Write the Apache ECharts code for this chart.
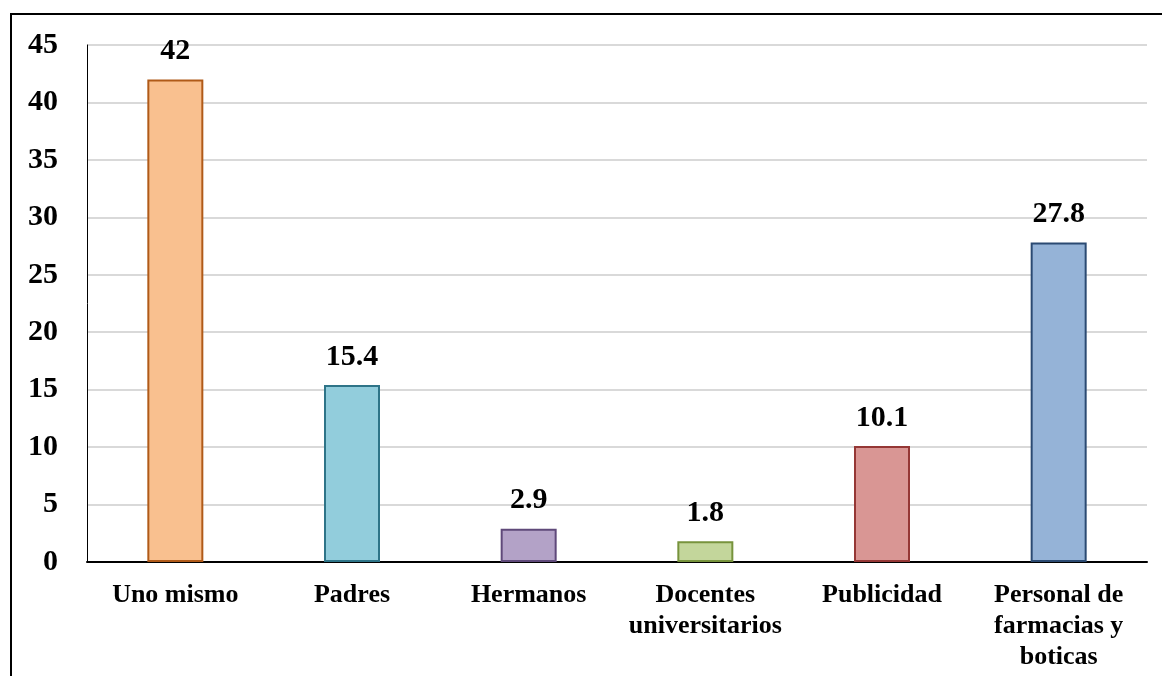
<!DOCTYPE html>
<html>
<head>
<meta charset="utf-8">
<script src="https://cdn.jsdelivr.net/npm/echarts@6/dist/echarts.min.js"></script>
<style>
  html, body { margin: 0; padding: 0; background: #fff; }
  #chart { width: 1162px; height: 676px; }
</style>
</head>
<body>
<div id="chart"></div>
<script>
// Source of the recommendation (%)
const categories = ['Uno mismo', 'Padres', 'Hermanos', 'Docentes\nuniversitarios', 'Publicidad', 'Personal de\nfarmacias y\nboticas'];
const values = [42, 15.4, 2.9, 1.8, 10.1, 27.8];
const fillColors = ['#F9C08F', '#92CDDC', '#B3A2C7', '#C3D69B', '#D99694', '#95B3D7'];
const edgeColors = ['#B05A18', '#2E7488', '#5F497A', '#77933C', '#953735', '#2B4A72'];
const yTicks = { min: 0, max: 45, interval: 5 };

const font = '"Liberation Serif", "Times New Roman", serif';
const chart = echarts.init(document.getElementById('chart'), null, { renderer: 'canvas' });

chart.setOption({
  animation: false,
  backgroundColor: '#ffffff',
  grid: { left: 87, right: 15, top: 45, bottom: 114, containLabel: false },
  xAxis: {
    type: 'category',
    data: categories,
    axisLine: { show: true, lineStyle: { color: '#000', width: 2 } },
    axisTick: { show: false },
    axisLabel: {
      interval: 0,
      margin: 18,
      color: '#000',
      fontFamily: font,
      fontWeight: 'bold',
      fontSize: 26,
      lineHeight: 31
    }
  },
  yAxis: {
    type: 'value',
    min: yTicks.min,
    max: yTicks.max,
    interval: yTicks.interval,
    axisLine: { show: true, lineStyle: { color: '#000', width: 1 } },
    axisTick: { show: false },
    splitLine: { show: true, lineStyle: { color: '#D9D9D9', width: 2 } },
    axisLabel: {
      margin: 29,
      color: '#000',
      fontFamily: font,
      fontWeight: 'bold',
      fontSize: 30
    }
  },
  series: [{
    type: 'bar',
    barWidth: 56,
    data: values.map((v, i) => ({
      value: v,
      itemStyle: { color: fillColors[i], borderColor: edgeColors[i], borderWidth: 2 }
    })),
    label: {
      show: true,
      position: 'top',
      distance: 13,
      color: '#000',
      fontFamily: font,
      fontWeight: 'bold',
      fontSize: 30
    }
  }],
  graphic: [{
    type: 'polyline',
    silent: true,
    shape: { points: [[11, 676], [11, 14], [1162, 14]] },
    style: { stroke: '#000', lineWidth: 2, fill: null }
  }]
});
</script>
</body>
</html>
